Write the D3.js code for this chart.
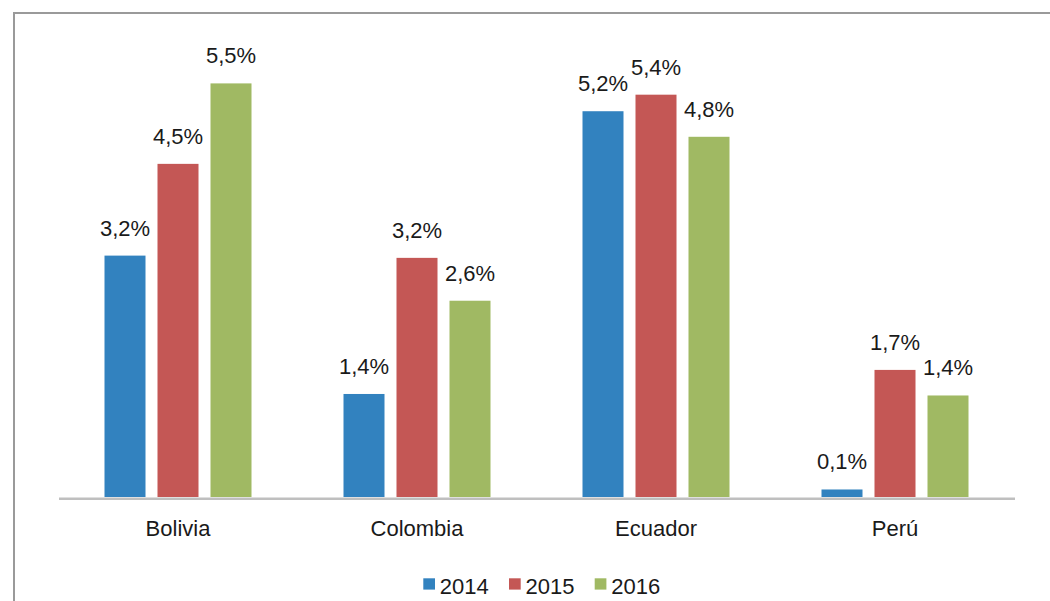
<!DOCTYPE html>
<html>
<head>
<meta charset="utf-8">
<script src="https://cdn.jsdelivr.net/npm/d3@7"></script>
<style>
  html, body { margin: 0; padding: 0; background: #ffffff; }
  svg { display: block; font-family: "Liberation Sans", Arial, sans-serif; }
</style>
</head>
<body>
<svg id="chart" width="1050" height="601"></svg>
<script>
const categories = ["Bolivia", "Colombia", "Ecuador", "Perú"];
const seriesNames = ["2014", "2015", "2016"];
const values2014 = [3.21, 1.37, 5.13, 0.10];
const values2015 = [4.43, 3.18, 5.35, 1.69];
const values2016 = [5.50, 2.61, 4.79, 1.35];
const labels2014 = ["3,2%", "1,4%", "5,2%", "0,1%"];
const labels2015 = ["4,5%", "3,2%", "5,4%", "1,7%"];
const labels2016 = ["5,5%", "2,6%", "4,8%", "1,4%"];
const colors = ["#3282bf", "#c45755", "#a0b963"];

const seriesValues = [values2014, values2015, values2016];
const seriesLabels = [labels2014, labels2015, labels2016];

const svg = d3.select("#chart");

// outer border (extends beyond the window on right and bottom)
svg.append("rect")
  .attr("x", 14).attr("y", 13)
  .attr("width", 1100).attr("height", 700)
  .attr("fill", "none").attr("stroke", "#9a9a9a").attr("stroke-width", 2);

const x = d3.scaleBand().domain(categories).range([58.5, 1014.5]).paddingInner(0).paddingOuter(0);
const xs = d3.scaleBand().domain(seriesNames).range([46, 193]).paddingInner(12 / 53).paddingOuter(0);
const y = d3.scaleLinear().domain([0, 6]).range([497, 497 - 6 * 75.2]);

const data = [];
categories.forEach((c, i) => {
  seriesNames.forEach((s, j) => {
    data.push({ cat: c, series: s, value: seriesValues[j][i], label: seriesLabels[j][i], color: colors[j] });
  });
});

const g = svg.append("g");

g.selectAll("rect.bar").data(data).enter().append("rect")
  .attr("class", "bar")
  .attr("x", d => x(d.cat) + xs(d.series))
  .attr("y", d => y(d.value))
  .attr("width", xs.bandwidth())
  .attr("height", d => y(0) - y(d.value))
  .attr("fill", d => d.color);

g.selectAll("text.val").data(data).enter().append("text")
  .attr("class", "val")
  .attr("x", d => x(d.cat) + xs(d.series) + xs.bandwidth() / 2)
  .attr("y", d => y(d.value) - 20)
  .attr("text-anchor", "middle")
  .attr("font-size", "22px")
  .attr("fill", "#1a1a1a")
  .text(d => d.label);

// x axis
const axis = svg.append("g").attr("transform", "translate(0,498.3)")
  .call(d3.axisBottom(x).tickSize(0).tickPadding(0));
axis.select(".domain").attr("stroke", "#bfbfbf").attr("stroke-width", 2.6);
axis.selectAll(".tick text")
  .attr("font-size", "22px")
  .attr("font-family", "\"Liberation Sans\", Arial, sans-serif")
  .attr("fill", "#1a1a1a")
  .attr("dy", null)
  .attr("y", 37.7);

// legend
const legend = svg.append("g").attr("transform", "translate(423.3,0)");
const items = legend.selectAll("g").data(seriesNames).enter().append("g")
  .attr("transform", (d, i) => `translate(${i * 85.7},0)`);
items.append("rect")
  .attr("x", 0).attr("y", 578.3)
  .attr("width", 11.7).attr("height", 11.3)
  .attr("fill", (d, i) => colors[i]);
items.append("text")
  .attr("x", 16.5).attr("y", 594.3)
  .attr("font-size", "22px")
  .attr("fill", "#1a1a1a")
  .text(d => d);
</script>
</body>
</html>
